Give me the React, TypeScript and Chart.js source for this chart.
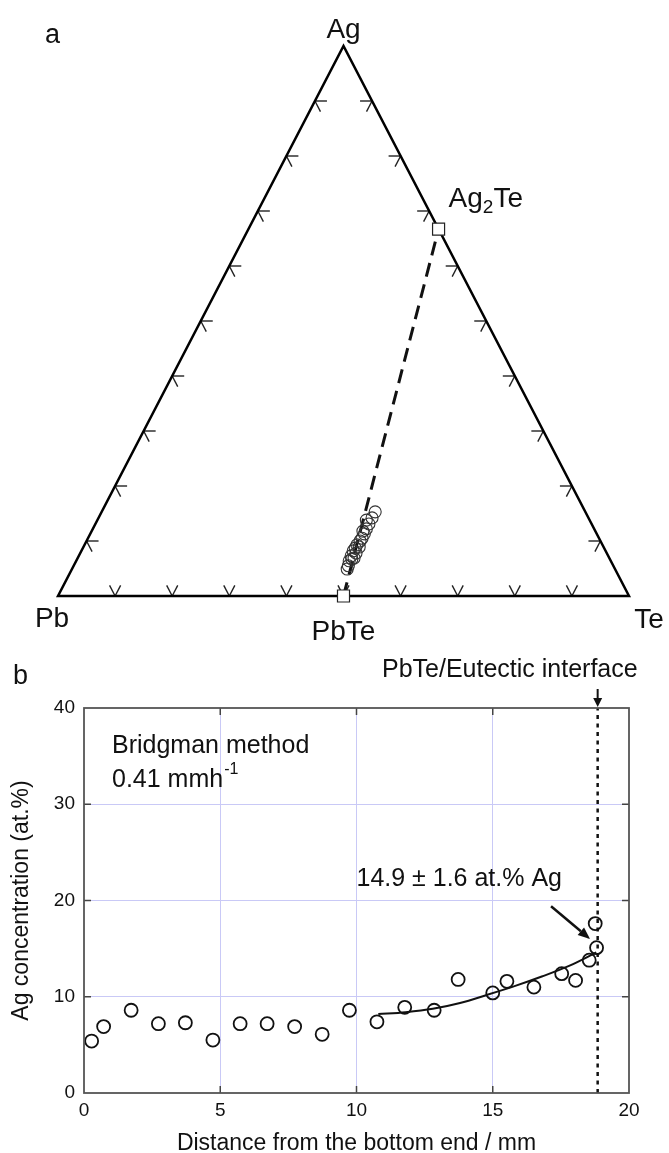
import React, { useEffect, useRef } from 'react';
import { Chart, registerables } from 'chart.js';

Chart.register(...registerables);

const FONT = '"Liberation Sans", Arial, Helvetica, sans-serif';
const INK = '#111';

// ---------------- Panel a: ternary Ag–Pb–Te (at.%) ----------------
const vertexLabels = ['Pb', 'Te', 'Ag'];
const vertexAg = [0, 0, 100];
const vertexTe = [0, 100, 0];

const phaseLabels = ['PbTe', 'Ag2Te'];
const phaseAg = [0, 66.7];
const phaseTe = [50, 33.3];

const ternAg = [15.3, 14.2, 13.8, 13.1, 12.2, 11.8, 11.3, 10.5, 10.0, 9.3, 8.9, 8.7, 8.2, 7.8, 7.3, 6.9, 6.7, 6.4, 5.5, 4.9];
const ternTe = [47.9, 47.9, 47.1, 47.9, 47.9, 47.5, 48.0, 48.0, 47.9, 47.7, 48.3, 47.7, 47.6, 48.3, 47.7, 48.4, 48.1, 47.8, 48.1, 48.2];

const ternTicks = [10, 20, 30, 40, 50, 60, 70, 80, 90];

// ---------------- Panel b: Ag profile ----------------
const distance = [0.28, 0.72, 1.73, 2.73, 3.72, 4.73, 5.73, 6.72, 7.73, 8.74, 9.74, 10.75, 11.77, 12.85, 13.73, 15.0, 15.52, 16.51, 17.53, 18.04, 18.54, 18.81, 18.76];
const agConc = [5.4, 6.9, 8.6, 7.2, 7.3, 5.5, 7.2, 7.2, 6.9, 6.1, 8.6, 7.4, 8.9, 8.6, 11.8, 10.4, 11.6, 11.0, 12.4, 11.7, 13.8, 15.1, 17.6];

const fitX = [10.8, 11.8, 12.8, 13.8, 14.8, 15.8, 16.8, 17.8, 18.8];
const fitY = [8.2, 8.4, 8.75, 9.35, 10.2, 11.1, 12.1, 13.2, 14.6];

const interfaceX = 18.85;

const xTicks = [0, 5, 10, 15, 20];
const yTicks = [0, 10, 20, 30, 40];

const xTitle = 'Distance from the bottom end / mm';
const yTitle = 'Ag concentration (at.%)';
const interfaceLabel = 'PbTe/Eutectic interface';
const methodLabel = 'Bridgman method';
const rateLabel = '0.41 mmh';
const rateSup = '-1';
const valueLabel = '14.9 \u00B1 1.6 at.% Ag';
const valueLabelAt = { x: 10.0, y: 21.5 };
const arrowFrom = { x: 17.14, y: 19.4 };
const arrowTo = { x: 18.57, y: 16.0 };

const toXY = (ag: number, te: number) => ({ x: (te + ag / 2) / 100, y: ag / 100 });

function arrow(ctx: CanvasRenderingContext2D, x1: number, y1: number, x2: number, y2: number, head: number, half: number, width: number) {
  const dx = x2 - x1, dy = y2 - y1;
  const l = Math.hypot(dx, dy);
  const ux = dx / l, uy = dy / l;
  const bx = x2 - ux * head, by = y2 - uy * head;
  ctx.save();
  ctx.strokeStyle = INK;
  ctx.fillStyle = INK;
  ctx.lineWidth = width;
  ctx.beginPath();
  ctx.moveTo(x1, y1);
  ctx.lineTo(bx, by);
  ctx.stroke();
  ctx.beginPath();
  ctx.moveTo(x2, y2);
  ctx.lineTo(bx - uy * half, by + ux * half);
  ctx.lineTo(bx + uy * half, by - ux * half);
  ctx.closePath();
  ctx.fill();
  ctx.restore();
}

const ternaryDecor = {
  id: 'ternaryDecor',
  beforeDatasetsDraw(chart: any) {
    const { ctx, scales } = chart;
    const P = (ag: number, te: number) => {
      const p = toXY(ag, te);
      return [scales.x.getPixelForValue(p.x), scales.y.getPixelForValue(p.y)];
    };
    const Pb = P(vertexAg[0], vertexTe[0]);
    const Te = P(vertexAg[1], vertexTe[1]);
    const Ag = P(vertexAg[2], vertexTe[2]);
    const unit = (a: number[], b: number[]) => {
      const dx = b[0] - a[0], dy = b[1] - a[1];
      const l = Math.hypot(dx, dy);
      return [dx / l, dy / l];
    };
    const L = 12;
    ctx.save();
    ctx.strokeStyle = '#222';
    ctx.lineWidth = 1.4;
    const seg = (p: number[], u: number[]) => {
      ctx.beginPath();
      ctx.moveTo(p[0], p[1]);
      ctx.lineTo(p[0] + u[0] * L, p[1] + u[1] * L);
      ctx.stroke();
    };
    for (const f of ternTicks) {
      const pb = P(0, f);
      seg(pb, unit(Pb, Ag));
      seg(pb, unit(Te, Ag));
      const pl = P(f, 0);
      seg(pl, unit(Pb, Te));
      seg(pl, unit(Ag, Te));
      const pr = P(f, 100 - f);
      seg(pr, unit(Te, Pb));
      seg(pr, unit(Ag, Pb));
    }
    ctx.restore();
  },
  afterDraw(chart: any) {
    const { ctx, scales } = chart;
    const P = (ag: number, te: number) => {
      const p = toXY(ag, te);
      return [scales.x.getPixelForValue(p.x), scales.y.getPixelForValue(p.y)];
    };
    const Pb = P(vertexAg[0], vertexTe[0]);
    const Te = P(vertexAg[1], vertexTe[1]);
    const Ag = P(vertexAg[2], vertexTe[2]);
    const pbte = P(phaseAg[0], phaseTe[0]);
    const ag2te = P(phaseAg[1], phaseTe[1]);
    ctx.save();
    ctx.fillStyle = INK;
    ctx.textBaseline = 'alphabetic';
    ctx.font = `28px ${FONT}`;
    ctx.textAlign = 'center';
    ctx.fillText(vertexLabels[2], Ag[0], Ag[1] - 8);
    ctx.fillText(vertexLabels[0], Pb[0] - 6, Pb[1] + 31);
    ctx.fillText(vertexLabels[1], Te[0] + 20, Te[1] + 32);
    ctx.fillText(phaseLabels[0], pbte[0], pbte[1] + 44);
    // Ag2Te with subscript
    ctx.textAlign = 'left';
    let x = ag2te[0] + 10;
    const yb = ag2te[1] - 22;
    ctx.fillText('Ag', x, yb);
    x += ctx.measureText('Ag').width;
    ctx.font = `19px ${FONT}`;
    ctx.fillText('2', x, yb + 6);
    x += ctx.measureText('2').width;
    ctx.font = `28px ${FONT}`;
    ctx.fillText('Te', x, yb);
    // panel letter
    ctx.font = `27px ${FONT}`;
    ctx.fillText('a', 45, 43);
    ctx.restore();
  },
};

const profileDecor = {
  id: 'profileDecor',
  afterDatasetsDraw(chart: any) {
    const { ctx, scales, chartArea } = chart;
    const { left, right, top, bottom } = chartArea;
    const sx = scales.x, sy = scales.y;
    ctx.save();
    // inner tick marks
    ctx.strokeStyle = '#444';
    ctx.lineWidth = 1.5;
    const T = 7;
    for (const v of xTicks.slice(1, -1)) {
      const px = sx.getPixelForValue(v);
      ctx.beginPath();
      ctx.moveTo(px, bottom); ctx.lineTo(px, bottom - T);
      ctx.moveTo(px, top); ctx.lineTo(px, top + T);
      ctx.stroke();
    }
    for (const v of yTicks.slice(1, -1)) {
      const py = sy.getPixelForValue(v);
      ctx.beginPath();
      ctx.moveTo(left, py); ctx.lineTo(left + T, py);
      ctx.moveTo(right, py); ctx.lineTo(right - T, py);
      ctx.stroke();
    }
    // frame
    ctx.strokeStyle = '#555';
    ctx.lineWidth = 1.8;
    ctx.strokeRect(left, top, right - left, bottom - top);

    // interface arrow + label
    const ix = sx.getPixelForValue(interfaceX);
    arrow(ctx, ix, top - 19, ix, top - 1, 9, 4.5, 2);
    ctx.fillStyle = INK;
    ctx.font = `25px ${FONT}`;
    ctx.textAlign = 'right';
    ctx.textBaseline = 'alphabetic';
    ctx.fillText(interfaceLabel, ix + 40, top - 31);

    // method text
    ctx.textAlign = 'left';
    ctx.fillText(methodLabel, left + 28, top + 45);
    ctx.fillText(rateLabel, left + 28, top + 79);
    const w = ctx.measureText(rateLabel).width;
    ctx.font = `16px ${FONT}`;
    ctx.fillText(rateSup, left + 28 + w + 1, top + 66);

    // value annotation
    ctx.font = `25px ${FONT}`;
    ctx.fillText(valueLabel, sx.getPixelForValue(valueLabelAt.x), sy.getPixelForValue(valueLabelAt.y));
    arrow(ctx,
      sx.getPixelForValue(arrowFrom.x), sy.getPixelForValue(arrowFrom.y),
      sx.getPixelForValue(arrowTo.x), sy.getPixelForValue(arrowTo.y), 12, 5, 2.5);

    // panel letter
    ctx.font = `27px ${FONT}`;
    ctx.fillText('b', 13, top - 24);
    ctx.restore();
  },
};

export default function App() {
  const topRef = useRef<HTMLCanvasElement>(null);
  const botRef = useRef<HTMLCanvasElement>(null);

  useEffect(() => {
    const tern = new Chart(topRef.current as HTMLCanvasElement, {
      type: 'scatter',
      data: {
        datasets: [
          {
            label: 'phases',
            data: phaseAg.map((a, i) => toXY(a, phaseTe[i])),
            pointStyle: 'rect',
            pointRadius: 8.5,
            pointBackgroundColor: '#fff',
            pointBorderColor: '#222',
            pointBorderWidth: 1.2,
            clip: false,
          } as any,
          {
            label: 'measured',
            data: ternAg.map((a, i) => toXY(a, ternTe[i])),
            pointRadius: 6,
            pointBackgroundColor: 'rgba(255,255,255,0)',
            pointBorderColor: '#333',
            pointBorderWidth: 1.1,
            clip: false,
          } as any,
          {
            label: 'tie line',
            data: phaseAg.map((a, i) => toXY(a, phaseTe[i])),
            showLine: true,
            borderColor: INK,
            borderWidth: 3,
            borderDash: [14, 8],
            pointRadius: 0,
            clip: false,
          } as any,
          {
            label: 'triangle',
            data: [0, 1, 2, 0, 1].map((i) => toXY(vertexAg[i], vertexTe[i])),
            showLine: true,
            borderColor: '#000',
            borderWidth: 2.5,
            borderJoinStyle: 'miter',
            pointRadius: 0,
            clip: false,
          } as any,
        ],
      },
      options: {
        responsive: false,
        animation: false,
        devicePixelRatio: 1,
        events: [],
        layout: { padding: { left: 58, right: 40, top: 46, bottom: 52 } },
        scales: {
          x: { type: 'linear', min: 0, max: 1, display: false },
          y: { type: 'linear', min: 0, max: 1, display: false },
        },
        plugins: { legend: { display: false }, tooltip: { enabled: false } },
      },
      plugins: [ternaryDecor],
    } as any);

    const gridColor = (c: any) =>
      c.tick && (c.tick.value === c.scale.min || c.tick.value === c.scale.max) ? 'rgba(0,0,0,0)' : '#c9c9f6';

    const prof = new Chart(botRef.current as HTMLCanvasElement, {
      type: 'scatter',
      data: {
        datasets: [
          {
            label: 'measured',
            data: distance.map((d, i) => ({ x: d, y: agConc[i] })),
            pointRadius: 6.5,
            pointBorderWidth: 1.8,
            pointBorderColor: INK,
            pointBackgroundColor: 'rgba(0,0,0,0)',
            clip: false,
          } as any,
          {
            label: 'fit',
            data: fitX.map((d, i) => ({ x: d, y: fitY[i] })),
            showLine: true,
            borderColor: INK,
            borderWidth: 2,
            pointRadius: 0,
            cubicInterpolationMode: 'monotone',
          } as any,
          {
            label: 'interface',
            data: [{ x: interfaceX, y: yTicks[0] }, { x: interfaceX, y: yTicks[yTicks.length - 1] }],
            showLine: true,
            borderColor: INK,
            borderWidth: 2.5,
            borderDash: [4, 4.5],
            pointRadius: 0,
            clip: false,
          } as any,
        ],
      },
      options: {
        responsive: false,
        animation: false,
        devicePixelRatio: 1,
        events: [],
        layout: { padding: { left: 0, right: 40, top: 60, bottom: 0 } },
        scales: {
          x: {
            type: 'linear',
            min: xTicks[0],
            max: xTicks[xTicks.length - 1],
            afterBuildTicks: (s: any) => { s.ticks = xTicks.map((v) => ({ value: v })); },
            afterFit: (s: any) => { s.height = 60; },
            ticks: { padding: 6, color: INK, font: { family: FONT, size: 19 } },
            grid: { color: gridColor, drawTicks: false, lineWidth: 1 },
            border: { display: false },
            title: { display: true, text: xTitle, color: INK, font: { family: FONT, size: 23 }, padding: { top: 0, bottom: -4 } },
          },
          y: {
            type: 'linear',
            min: yTicks[0],
            max: yTicks[yTicks.length - 1],
            afterBuildTicks: (s: any) => { s.ticks = yTicks.map((v) => ({ value: v })); },
            afterFit: (s: any) => { s.width = 84; },
            ticks: { padding: 9, color: INK, font: { family: FONT, size: 19 } },
            grid: { color: gridColor, drawTicks: false, lineWidth: 1 },
            border: { display: false },
            title: { display: true, text: yTitle, color: INK, font: { family: FONT, size: 23 }, padding: { top: 8, bottom: 0 } },
          },
        },
        plugins: { legend: { display: false }, tooltip: { enabled: false } },
      },
      plugins: [profileDecor],
    } as any);

    return () => {
      tern.destroy();
      prof.destroy();
    };
  }, []);

  return (
    <div style={{ position: 'absolute', left: 0, top: 0, width: 669, height: 1153, background: '#fff' }}>
      <canvas ref={topRef} width={669} height={648} style={{ position: 'absolute', left: 0, top: 0 }} />
      <canvas ref={botRef} width={669} height={505} style={{ position: 'absolute', left: 0, top: 648 }} />
    </div>
  );
}
